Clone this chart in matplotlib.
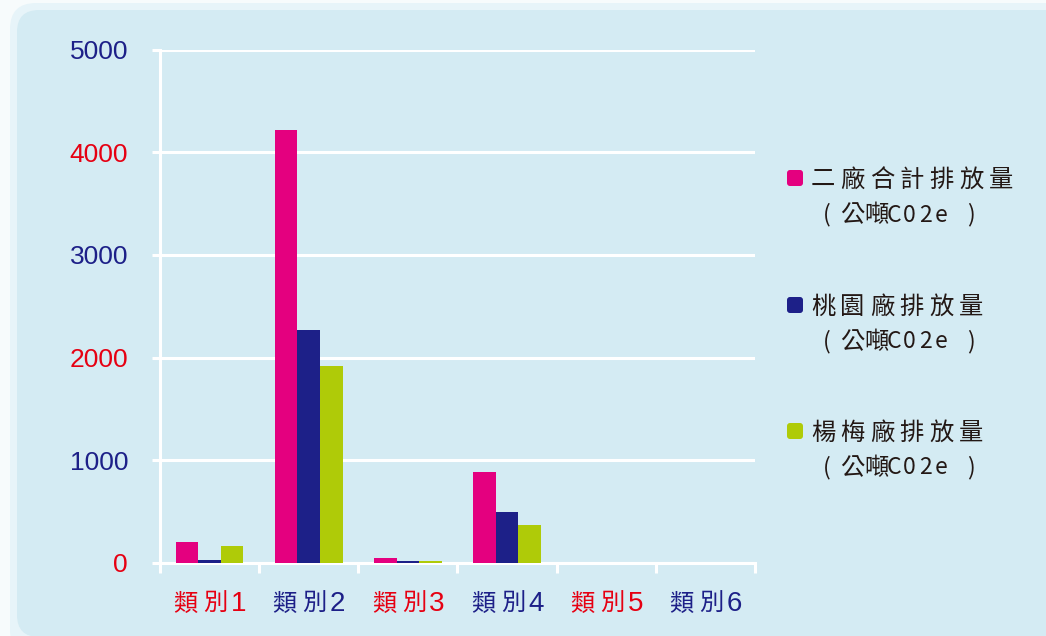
import matplotlib
matplotlib.use("Agg")
import matplotlib.pyplot as plt
import numpy as np
from matplotlib.patches import FancyBboxPatch
from matplotlib.transforms import Affine2D

# ---- data ----
categories = ['類別1', '類別2', '類別3', '類別4', '類別5', '類別6']
total_emission = [200, 4221, 44, 883, 0, 0]      # 二廠合計排放量
taoyuan_emission = [34, 2264, 24, 494, 0, 0]     # 桃園廠排放量
yangmei_emission = [161, 1923, 24, 367, 0, 0]    # 楊梅廠排放量
series_names = ['二廠合計排放量', '桃園廠排放量', '楊梅廠排放量']
unit_label = '(公噸C02e)'
y_ticks = [0, 1000, 2000, 3000, 4000, 5000]

# ---- style ----
W, H = 1046, 636
PINK, NAVY, GREEN, RED = '#E4007F', '#1D2088', '#AFCB08', '#E60012'
PANEL, BAND, OUTER = '#D4EBF3', '#E7F4F9', '#F7FBFC'
TEXT = '#231815'
CJK = ['Noto Sans CJK TC', 'DejaVu Sans']
NUM = ['Liberation Sans', 'DejaVu Sans']

fig = plt.figure(figsize=(W / 100, H / 100), dpi=100, facecolor=OUTER)
px = Affine2D().scale(1 / W, 1 / H) + fig.transFigure  # pixel coords, y from bottom

# rounded background
fig.patches.append(FancyBboxPatch((10, -20), 1100, H - 3 + 20, boxstyle='round,pad=0,rounding_size=26',
                                  transform=px, facecolor=BAND, edgecolor='none', zorder=-3))
fig.patches.append(FancyBboxPatch((17, -1), 1100, H - 10 + 1, boxstyle='round,pad=0,rounding_size=22',
                                  transform=px, facecolor=PANEL, edgecolor='none', zorder=-2))

ax_l, ax_r, ax_t, ax_b = 160, 755, 49.5, 563
ax = fig.add_axes([ax_l / W, 1 - ax_b / H, (ax_r - ax_l) / W, (ax_b - ax_t) / H])
ax.set_facecolor('none')
ax.set_zorder(1)

x = np.arange(len(categories))
bw = 0.228
ax.bar(x - bw, total_emission, bw, color=PINK, zorder=3)
ax.bar(x, taoyuan_emission, bw, color=NAVY, zorder=3)
ax.bar(x + bw, yangmei_emission, bw, color=GREEN, zorder=3)

ax.set_xlim(-0.5, len(categories) - 0.5)
ax.set_ylim(0, 5000)
ax.set_yticks(y_ticks)
ax.set_yticklabels([f'{v}' for v in y_ticks], fontsize=19, family=NUM)
for i, lab in enumerate(ax.get_yticklabels()):
    lab.set_color(RED if i % 2 == 0 else NAVY)
ax.tick_params(axis='y', length=6, width=2.2, color='white', pad=17)
ax.grid(axis='y', color='white', linewidth=2.2, zorder=1)
ax.set_axisbelow(True)

ax.set_xticks(x)
ax.set_xticklabels([])
ax.tick_params(axis='x', which='major', length=0)
ax.set_xticks(np.arange(-0.5, len(categories)), minor=True)
ax.tick_params(axis='x', which='minor', length=7, width=2.2, color='white')

for s in ['top', 'right']:
    ax.spines[s].set_visible(False)
for s in ['left', 'bottom']:
    ax.spines[s].set_color('white')
    ax.spines[s].set_linewidth(2.2)

# x category labels, drawn per character to keep the wide letter spacing
cat_w = (ax_r - ax_l) / len(categories)
for i, cat in enumerate(categories):
    c = ax_l + (i + 0.5) * cat_w
    col = RED if i % 2 == 0 else NAVY
    offs = [-24, 6, 29]
    for ch, o in zip(cat, offs):
        fam = NUM if ch.isdigit() else CJK
        fs = 20 if ch.isdigit() else 17.5
        fig.text(c + o, H - 604, ch, transform=px, ha='center', va='center',
                 fontsize=fs, family=fam, color=col)

# legend
colors = [PINK, NAVY, GREEN]
line1_y = [180, 307, 433]
sq_y = [178, 305, 431]
unit_x = [827, 852, 876, 894, 909, 925, 941, 971]
for name, col, y1, sy in zip(series_names, colors, line1_y, sq_y):
    fig.patches.append(FancyBboxPatch((787, H - sy - 8), 16, 16, boxstyle='round,pad=0,rounding_size=3',
                                      transform=px, facecolor=col, edgecolor='none', zorder=2))
    for k, ch in enumerate(name):
        fig.text(823 + 29.6 * k, H - y1, ch, transform=px, ha='center', va='center',
                 fontsize=17.5, family=CJK, color=TEXT)
    for ch, ux in zip(unit_label, unit_x):
        fs = 17.5 if ord(ch) > 255 else 16.5
        fig.text(ux, H - (y1 + 35), ch, transform=px, ha='center', va='center',
                 fontsize=fs, family=CJK, color=TEXT)

fig.savefig('out.png', dpi=100, facecolor=OUTER)
